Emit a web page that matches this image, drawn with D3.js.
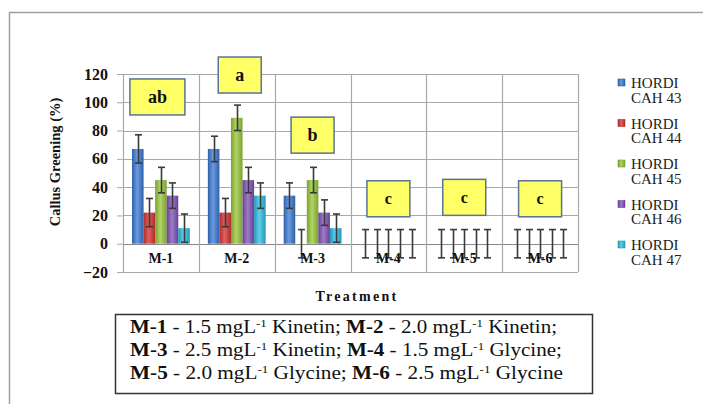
<!DOCTYPE html>
<html>
<head>
<meta charset="utf-8">
<script src="https://cdn.jsdelivr.net/npm/d3@7"></script>
<style>
  body { margin: 0; background: #fff; }
  svg { display: block; }
</style>
</head>
<body>
<script>
// data
const categories = ['M-1', 'M-2', 'M-3', 'M-4', 'M-5', 'M-6']
const series = ['HORDI CAH 43', 'HORDI CAH 44', 'HORDI CAH 45', 'HORDI CAH 46', 'HORDI CAH 47']
const values = [
  [67, 22, 45, 34, 11],
  [67, 22, 89, 45, 34],
  [34, 0, 45, 22, 11],
  [0, 0, 0, 0, 0],
  [0, 0, 0, 0, 0],
  [0, 0, 0, 0, 0]
]
const errors = [
  [10, 10, 9, 9, 10],
  [9, 10, 9, 9, 9],
  [9, 10, 9, 9, 10],
  [10, 10, 10, 10, 10],
  [10, 10, 10, 10, 10],
  [10, 10, 10, 10, 10]
]
const letters = ['ab', 'a', 'b', 'c', 'c', 'c']
const letterTop = [116.5, 132, 89.5, 44.5, 45.5, 44.5]
const yTicks = [-20, 0, 20, 40, 60, 80, 100, 120]

const colors = [
  ['#2f5fa8', '#6a9be0'],
  ['#b02a2a', '#e06060'],
  ['#7aa22e', '#b2d466'],
  ['#6a4096', '#9c7cc6'],
  ['#2596b8', '#5fd0ea']
]

const W = 703, H = 405
const m = { left: 123, right: 578, top: 74, bottom: 272 }
const serif = "'Liberation Serif', serif"

const svg = d3.select('body').append('svg').attr('width', W).attr('height', H)

const defs = svg.append('defs')
colors.forEach((c, i) => {
  const g = defs.append('linearGradient').attr('id', 'g' + i)
    .attr('x1', 0).attr('x2', 1).attr('y1', 0).attr('y2', 0)
  g.append('stop').attr('offset', '0%').attr('stop-color', c[0])
  g.append('stop').attr('offset', '45%').attr('stop-color', c[1])
  g.append('stop').attr('offset', '100%').attr('stop-color', c[0])
})

// outer frame (top + left only visible)
svg.append('path').attr('d', `M9.5,404 V12.5 H703`)
  .attr('fill', 'none').attr('stroke', '#a0a0a0').attr('stroke-width', 1.5)

const y = d3.scaleLinear().domain([-20, 120]).range([m.bottom, m.top])
const x = d3.scaleBand().domain(categories).range([m.left, m.right])
const xs = d3.scaleBand().domain(series).range([0, x.bandwidth()]).paddingOuter(0.78)

// grid
svg.append('g').selectAll('line').data(yTicks).join('line')
  .attr('x1', m.left).attr('x2', m.right)
  .attr('y1', d => Math.round(y(d)) + 0.5).attr('y2', d => Math.round(y(d)) + 0.5)
  .attr('stroke', d => d === 0 ? '#888' : '#a8a8a8').attr('stroke-width', 1.2)
svg.append('g').selectAll('line').data(d3.range(categories.length + 1)).join('line')
  .attr('x1', i => Math.round(m.left + i * x.step()) + 0.5)
  .attr('x2', i => Math.round(m.left + i * x.step()) + 0.5)
  .attr('y1', m.top).attr('y2', m.bottom)
  .attr('stroke', '#a8a8a8').attr('stroke-width', 1.2)

// y axis
const yAxis = svg.append('g').attr('transform', `translate(${m.left},0)`)
  .call(d3.axisLeft(y).tickValues(yTicks).tickSize(6).tickPadding(9))
yAxis.attr('font-family', null)
yAxis.select('.domain').remove()
yAxis.selectAll('line').attr('stroke', '#a8a8a8')
yAxis.selectAll('text').attr('font-weight', 'bold')
  .attr('font-size', 16).attr('fill', '#111')

svg.append('text').attr('transform', 'translate(60,162) rotate(-90)')
  .attr('text-anchor', 'middle').attr('font-weight', 'bold')
  .attr('font-size', 14.5).attr('fill', '#111').text('Callus Greening (%)')

// bars
const flat = []
categories.forEach((c, i) => series.forEach((s, j) => flat.push({ c, s, j, v: values[i][j], e: errors[i][j] })))

svg.append('g').selectAll('rect').data(flat.filter(d => d.v > 0)).join('rect')
  .attr('x', d => x(d.c) + xs(d.s)).attr('width', xs.bandwidth())
  .attr('y', d => y(d.v)).attr('height', d => y(0) - y(d.v))
  .attr('fill', d => `url(#g${d.j})`)

// error bars
const eb = svg.append('g').attr('stroke', '#3a3a3a').attr('stroke-width', 1.6)
flat.forEach(d => {
  const cx = Math.round(x(d.c) + xs(d.s) + xs.bandwidth() / 2) + 0.5
  const t = y(d.v + d.e), b = y(d.v - d.e)
  eb.append('line').attr('x1', cx).attr('x2', cx).attr('y1', t).attr('y2', b)
  eb.append('line').attr('x1', cx - 3.5).attr('x2', cx + 3.5).attr('y1', t).attr('y2', t)
  eb.append('line').attr('x1', cx - 3.5).attr('x2', cx + 3.5).attr('y1', b).attr('y2', b)
})

// category labels
svg.append('g').selectAll('text').data(categories).join('text')
  .attr('x', d => x(d) + x.bandwidth() / 2).attr('y', 263)
  .attr('text-anchor', 'middle').attr('font-weight', 'bold')
  .attr('font-size', 14).attr('fill', '#111').text(d => d)

svg.append('text').attr('x', 357).attr('y', 301).attr('text-anchor', 'middle')
  .attr('font-weight', 'bold').attr('font-size', 14)
  .attr('letter-spacing', 2.3).attr('fill', '#111').text('Treatment')

// letter boxes
const lb = svg.append('g')
letters.forEach((l, i) => {
  const w = l.length > 1 ? 55 : 43
  const cx = x(categories[i]) + x.bandwidth() / 2 + (i === 0 ? -3.5 : i === 1 ? 3 : 0)
  const top = y(letterTop[i])
  lb.append('rect').attr('x', cx - w / 2).attr('y', top).attr('width', w).attr('height', 36)
    .attr('fill', '#ffff66').attr('stroke', '#5a7394').attr('stroke-width', 1.5)
  lb.append('text').attr('x', cx).attr('y', top + 18).attr('dy', '0.35em')
    .attr('text-anchor', 'middle').attr('font-weight', 'bold')
    .attr('font-size', l === 'c' ? 16 : 18).attr('fill', '#111').text(l)
})

// legend
const lg = svg.append('g')
series.forEach((s, i) => {
  const yy = 83 + i * 40.5
  const parts = s.split(' ')
  lg.append('rect').attr('x', 618).attr('y', yy - 4).attr('width', 7).attr('height', 7)
    .attr('fill', `url(#g${i})`).attr('stroke', colors[i][0]).attr('stroke-width', 0.6)
  const t = lg.append('text').attr('font-size', 15).attr('fill', '#222')
  t.append('tspan').attr('x', 631).attr('y', yy + 5).text(parts[0])
  t.append('tspan').attr('x', 631).attr('y', yy + 19.5).text(parts.slice(1).join(' '))
})

// note box
svg.append('rect').attr('x', 115.5).attr('y', 314.5).attr('width', 477).attr('height', 79)
  .attr('fill', '#fff').attr('stroke', '#333').attr('stroke-width', 1.5)

const noteLines = [
  [['M-1', '1.5', 'Kinetin;'], ['M-2', '2.0', 'Kinetin;']],
  [['M-3', '2.5', 'Kinetin;'], ['M-4', '1.5', 'Glycine;']],
  [['M-5', '2.0', 'Glycine;'], ['M-6', '2.5', 'Glycine']]
]
const noteWidth = [427, 432, 433]
noteLines.forEach((line, li) => {
  const t = svg.append('text').attr('x', 130).attr('y', 333 + li * 23)
    .attr('font-size', 18).attr('fill', '#111')
    .attr('textLength', noteWidth[li]).attr('lengthAdjust', 'spacingAndGlyphs')
  line.forEach((p, k) => {
    t.append('tspan').attr('font-weight', 'bold').text((k ? ' ' : '') + p[0])
    t.append('tspan').text(` - ${p[1]} mgL`)
    t.append('tspan').attr('font-size', 11).attr('dy', -6).text('-1')
    t.append('tspan').attr('dy', 6).text(' ' + p[2])
  })
})

svg.selectAll('text').style('font-family', serif)
</script>
</body>
</html>
